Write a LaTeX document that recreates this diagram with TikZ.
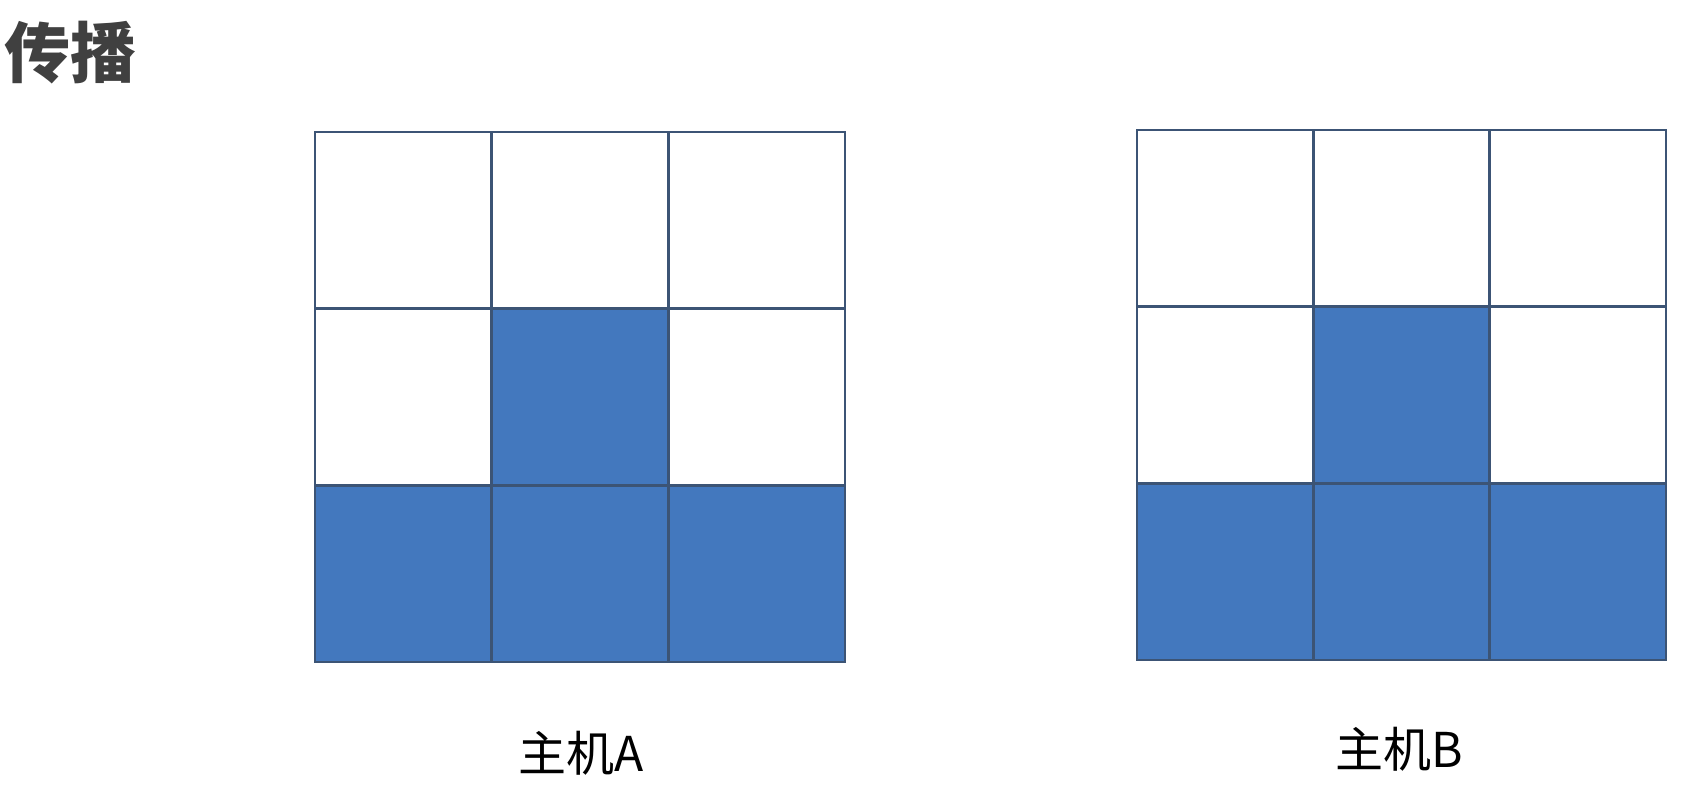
\documentclass[tikz,border=0pt]{standalone}
\usepackage{fontspec}
\setmainfont{Noto Sans CJK SC}
\usepackage{tikz}
\definecolor{cellblue}{HTML}{4378BE}
\definecolor{gridline}{HTML}{3C5475}
\definecolor{titlegray}{HTML}{404040}
\tikzset{
  cellfill/.style={fill=cellblue},
  gridstroke/.style={draw=gridline,line width=2.6pt,line cap=rect},
  hostlabel/.style={inner sep=0pt,font=\fontsize{48}{52}\selectfont}
}

\begin{document}
\begin{tikzpicture}[x=1pt,y=-1pt]
  \useasboundingbox[fill=white] (0,0) rectangle (1704,786);
  \node[inner sep=0pt,text=titlegray,font=\fontsize{66}{70}\selectfont\bfseries] (title) at (71,53) {传播};
  % host A
  \begin{scope}[shift={(315,132)}]
    \foreach \c/\r in {1/1,0/2,1/2,2/2}
      \fill[cellfill] (\c*176.67,\r*176.67) rectangle ++(176.67,176.67);
    \foreach \i in {0,...,3} {
      \draw[gridstroke] (\i*176.67,0) -- (\i*176.67,530);
      \draw[gridstroke] (0,\i*176.67) -- (530,\i*176.67);
    }
  \end{scope}
  \node[hostlabel] (hostA) at (581,753) {主机A};
  % host B
  \begin{scope}[shift={(1137,130)}]
    \foreach \c/\r in {1/1,0/2,1/2,2/2}
      \fill[cellfill] (\c*176.33,\r*176.67) rectangle ++(176.33,176.67);
    \foreach \i in {0,...,3} {
      \draw[gridstroke] (\i*176.33,0) -- (\i*176.33,530);
      \draw[gridstroke] (0,\i*176.67) -- (529,\i*176.67);
    }
  \end{scope}
  \node[hostlabel] (hostB) at (1399,749) {主机B};
\end{tikzpicture}
\end{document}
